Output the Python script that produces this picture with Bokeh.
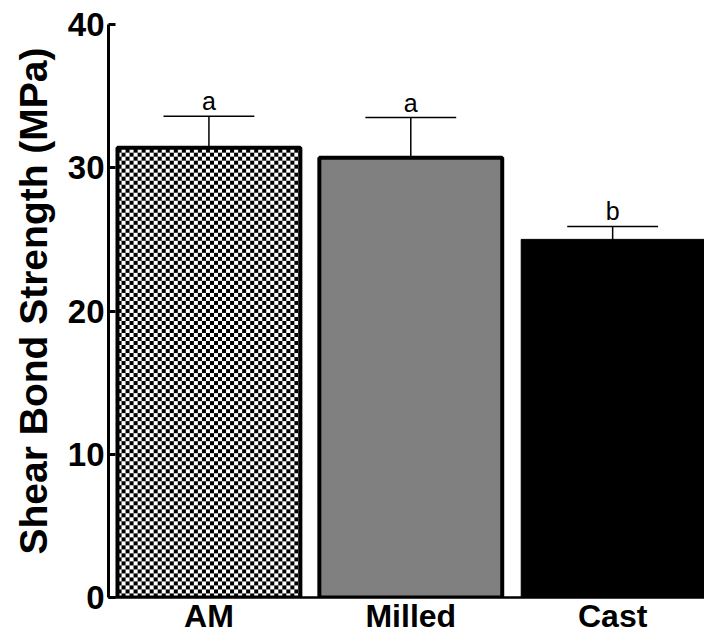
import numpy as np
from bokeh.plotting import figure
from bokeh.models import ColumnDataSource, Range1d, FixedTicker, Title
from bokeh.core.properties import value
from bokeh.embed import file_html
from bokeh.resources import INLINE

categories = ["AM", "Milled", "Cast"]
means = [31.4, 30.7, 25.0]
errors = [2.2, 2.8, 0.9]
letters = ["a", "a", "b"]
y_ticks = [0, 10, 20, 30, 40]
y_title = "Shear Bond Strength (MPa)"

xs = [i + 1 for i in range(len(categories))]
tops = [m + e for m, e in zip(means, errors)]
cap = 0.225
bar_w = 0.906

src = ColumnDataSource(dict(
    x=xs, top=means, err_top=tops,
    cap_l=[x - cap for x in xs], cap_r=[x + cap for x in xs],
    label=letters,
    fill=["white", "#808080", "black"],
    falpha=[0.0, 1.0, 1.0],
    lw=[4, 4, 1],
))

W, H = 704, 637
left, right, top_b, bottom_b = 108, 0, 24, 40
x_range = Range1d(0.5025, 3.455)
y_range = Range1d(0, 40)

p = figure(width=W, height=H, output_backend="svg", toolbar_location=None,
           x_range=x_range, y_range=y_range,
           min_border_left=left, min_border_right=right, min_border_top=top_b,
           min_border_bottom=bottom_b)
p.outline_line_color = None
p.grid.visible = False
p.background_fill_color = "white"

# error bars (upper half only)
p.segment(x0="x", y0="top", x1="x", y1="err_top", source=src, line_color="black", line_width=1.5)
p.segment(x0="cap_l", y0="err_top", x1="cap_r", y1="err_top", source=src, line_color="black", line_width=1.5)

# checkerboard texture for the AM bar (4 px squares, one array pixel per screen pixel)
sq = 4
px_x = (W - left - right) / (x_range.end - x_range.start)
px_y = (H - top_b - bottom_b) / (y_range.end - y_range.start)
nx = int(round(bar_w * px_x))
ny = int(round(means[0] * px_y))
jj, ii = np.meshgrid(np.arange(nx), np.arange(ny))
chk = ((ii // sq + jj // sq) % 2).astype(bool)
img = np.empty((ny, nx), dtype=np.uint32)
view = img.view(dtype=np.uint8).reshape((ny, nx, 4))
view[..., 3] = 255
for c in range(3):
    view[..., c] = np.where(chk, 0, 255)
p.image_rgba(image=[img], x=xs[0] - bar_w / 2, y=0, dw=bar_w, dh=means[0])

p.vbar(x="x", top="top", bottom=0, width=bar_w, source=src,
       fill_color="fill", fill_alpha="falpha", line_color="black", line_width="lw")

p.text(x="x", y="err_top", text="label", source=src, text_align="center",
       text_baseline="bottom", y_offset=-1, text_font=value("Liberation Sans"),
       text_font_size="25px", text_color="black")

font = "Liberation Sans"

p.yaxis.ticker = FixedTicker(ticks=y_ticks)
p.yaxis.minor_tick_line_color = None
p.yaxis.major_tick_in = 7
p.yaxis.major_tick_out = 0
p.yaxis.major_tick_line_width = 3
p.yaxis.axis_line_width = 3
p.yaxis.major_label_standoff = 4
p.yaxis.major_label_text_font = font
p.yaxis.major_label_text_font_style = "bold"
p.yaxis.major_label_text_font_size = "33px"
p.yaxis.major_label_text_color = "black"

p.add_layout(Title(text=y_title, align="left", offset=43, standoff=19,
                   text_font=font, text_font_style="bold", text_font_size="39px",
                   text_color="black"), "left")

p.xaxis.ticker = FixedTicker(ticks=xs)
p.xaxis.major_label_overrides = {x: c for x, c in zip(xs, categories)}
p.xaxis.minor_tick_line_color = None
p.xaxis.major_tick_line_color = None
p.xaxis.major_tick_in = 0
p.xaxis.major_tick_out = 0
p.xaxis.axis_line_width = 2.5
p.xaxis.major_label_standoff = 0
p.xaxis.major_label_text_font = font
p.xaxis.major_label_text_font_style = "bold"
p.xaxis.major_label_text_font_size = "32px"
p.xaxis.major_label_text_color = "black"

open("out.html", "w").write(file_html(p, INLINE))
